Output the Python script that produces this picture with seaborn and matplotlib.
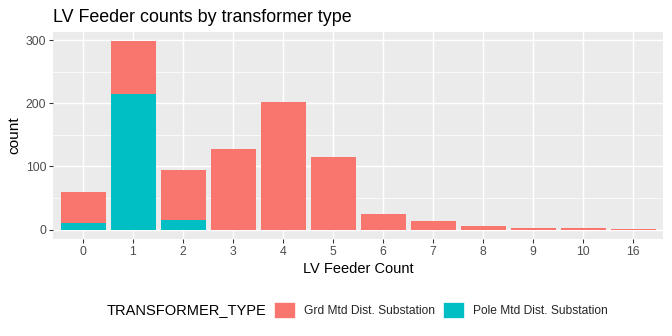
import matplotlib
matplotlib.use("Agg")
import matplotlib.pyplot as plt
from matplotlib.patches import Patch
from matplotlib.ticker import MultipleLocator
import numpy as np
import pandas as pd
import seaborn as sns

# LV feeder counts per transformer, split by transformer type
feeder_counts = ["0", "1", "2", "3", "4", "5", "6", "7", "8", "9", "10", "16"]
grd_mtd = [48, 83, 79, 127, 202, 115, 25, 14, 5, 3, 2, 1]
pole_mtd = [11, 215, 15, 0, 0, 0, 0, 0, 0, 0, 0, 0]
type_labels = ["Grd Mtd Dist. Substation", "Pole Mtd Dist. Substation"]

GRD_COLOR = "#F8766D"
POLE_COLOR = "#00BFC4"

df = pd.DataFrame({
    "feeders": feeder_counts,
    "grd": grd_mtd,
    "pole": pole_mtd,
})
df["total"] = df["grd"] + df["pole"]

sns.set_theme(style="darkgrid")
plt.rcParams["font.family"] = ["Liberation Sans", "DejaVu Sans"]

fig = plt.figure(figsize=(7, 3.5), dpi=96)
ax = fig.add_axes([53 / 672, 1 - 239 / 336, (663 - 53) / 672, (239 - 32) / 336])
ax.set_facecolor("#EBEBEB")

# stacked bars: full height in the ground-mounted colour, pole-mounted part at the base
sns.barplot(data=df, x="feeders", y="total", order=feeder_counts, color=GRD_COLOR,
            width=0.9, saturation=1, ax=ax, zorder=3, linewidth=0)
sns.barplot(data=df, x="feeders", y="pole", order=feeder_counts, color=POLE_COLOR,
            width=0.9, saturation=1, ax=ax, zorder=4, linewidth=0)

ymax = df["total"].max()
ax.set_xlim(-0.6, len(feeder_counts) - 0.4)
ax.set_ylim(-0.05 * ymax, 1.05 * ymax)
ax.yaxis.set_major_locator(MultipleLocator(100))
ax.yaxis.set_minor_locator(MultipleLocator(50))

ax.grid(which="major", color="white", linewidth=1.1, zorder=0)
ax.grid(which="minor", axis="y", color="white", linewidth=0.55, zorder=0)
ax.set_axisbelow(True)
for s in ax.spines.values():
    s.set_visible(False)

ax.tick_params(axis="both", which="major", length=3, width=0.8, color="#333333",
               labelsize=9.2, labelcolor="#4D4D4D", pad=2, bottom=True, left=True)
ax.tick_params(axis="y", which="minor", length=0)

ax.set_xlabel("LV Feeder Count", fontsize=11, color="black", labelpad=3)
ax.set_ylabel("count", fontsize=11.5, color="black", labelpad=3)

fig.text(53 / 672, 1 - 17 / 336, "LV Feeder counts by transformer type",
         fontsize=13.4, color="black", ha="left", va="center")

# legend along the bottom, title to the left of the keys
fig.text(107 / 672, 1 - 310 / 336, "TRANSFORMER_TYPE", fontsize=11,
         color="black", ha="left", va="center")
handles = [Patch(facecolor=GRD_COLOR, edgecolor="white", linewidth=0.5),
           Patch(facecolor=POLE_COLOR, edgecolor="white", linewidth=0.5)]
fig.legend(handles, type_labels, loc="center left",
           bbox_to_anchor=(274 / 672, 1 - 310 / 336), ncol=2, frameon=False,
           fontsize=9.0, handlelength=1.75, handleheight=1.75, handletextpad=0.75,
           columnspacing=0.7, borderpad=0, borderaxespad=0)

fig.savefig("out.png", dpi=96, facecolor="white")
